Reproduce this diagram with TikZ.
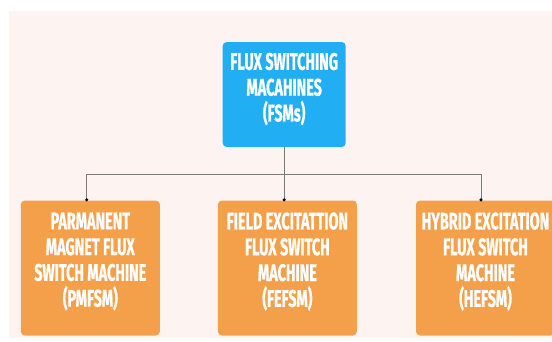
\documentclass[tikz,border=0pt]{standalone}
\usepackage{fontspec}
\setmainfont{Fira Sans}[FakeStretch=0.6, BoldFeatures={FakeBold=0.8}]
\usetikzlibrary{arrows.meta}
\definecolor{bgpink}{HTML}{FDF4F2}
\definecolor{boxblue}{HTML}{22AEF3}
\definecolor{boxorange}{HTML}{F4A04A}
\definecolor{linegray}{HTML}{7A7A7A}
\tikzset{
  topbox/.style={draw=none, fill=boxblue, rounded corners=4pt, minimum width=123pt, minimum height=105pt, inner sep=0pt},
  subbox/.style={draw=none, fill=boxorange, rounded corners=4pt, minimum width=139pt, minimum height=135pt, inner sep=0pt},
  lbl/.style={text=white, align=center, font=\bfseries\fontsize{24}{25.8}\selectfont, inner sep=0pt},
  conn/.style={draw=linegray, line width=1pt},
  tipconn/.style={conn, -{Circle[length=3pt,fill=black,black]}, shorten >=-1pt}
}
\begin{document}
\begin{tikzpicture}[x=1pt,y=-1pt]
\useasboundingbox (0,0) rectangle (552,341);
\fill[bgpink] (9,11) rectangle (552,338);
\node[topbox] (top) at (284.2,94.5) {};
\node[subbox] (l) at (90.3,268) {};
\node[subbox] (m) at (287.4,268) {};
\node[subbox] (r) at (485.5,268) {};
\node[lbl] (ttop) at (284.2,89) {FLUX SWITCHING\\MACAHINES\\(FSMs)};
\node[lbl] (tl) at (90.3,261.5) {PARMANENT\\MAGNET FLUX\\SWITCH MACHINE\\(PMFSM)};
\node[lbl] (tm) at (287.4,261.5) {FIELD EXCITATTION\\FLUX SWITCH\\MACHINE\\(FEFSM)};
\node[lbl] (tr) at (485.5,261.5) {HYBRID EXCITATION\\FLUX SWITCH\\MACHINE\\(HEFSM)};
\coordinate (j) at (284.2,174);
\coordinate (lp) at ([xshift=-3.6pt]l.north);
\coordinate (mp) at ([xshift=-3.2pt]m.north);
\coordinate (rp) at ([xshift=-4.5pt]r.north);
\draw[conn] (top.south) -- (j);
\draw[tipconn] (j) -| (lp);
\draw[tipconn] (j) -| (mp);
\draw[tipconn] (j) -| (rp);
\end{tikzpicture}
\end{document}
